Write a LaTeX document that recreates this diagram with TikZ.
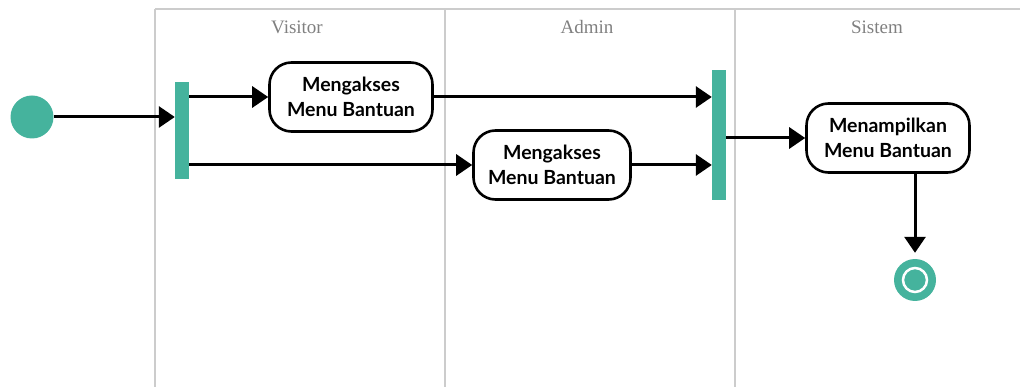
\documentclass[tikz,border=0pt]{standalone}
\usepackage{fontspec}
\setmainfont{Lato}
\newfontfamily\lanefont{Liberation Serif}
\usetikzlibrary{arrows.meta}
\definecolor{hijau}{RGB}{69,179,157}
\begin{document}
\begin{tikzpicture}[x=1pt,y=-1pt]
\tikzstyle{aksi}=[draw,line width=2.6pt,rounded corners=22pt,minimum width=163pt,minimum height=69pt,align=center,font=\fontsize{19.5}{25}\selectfont\bfseries]
\tikzstyle{garpu}=[fill=hijau,minimum width=14pt,inner sep=0pt]
\tikzstyle{panah}=[line width=3pt,-{Triangle[length=16pt,width=21pt]}]
\tikzstyle{lajur}=[text=gray,font=\lanefont\fontsize{19}{22}\selectfont]
\useasboundingbox (0,0) rectangle (1020,387);
\draw[black!20,line width=1.2pt] (155,9) -- (1020,9)
      (155,9) -- (155,387)
      (445,9) -- (445,387)
      (735,9) -- (735,387);
\node[lajur] (l1) at (297,27) {Visitor};
\node[lajur] (l2) at (587,27) {Admin};
\node[lajur] (l3) at (877,27) {Sistem};
\node[circle,fill=hijau,minimum size=43pt,inner sep=0pt] at (32,117) (mulai) {};
\node[garpu,minimum height=97pt] at (182,131) (f1) {};
\node[aksi] at (351,97) (a1) {Mengakses\\Menu Bantuan};
\node[aksi,minimum width=157pt] at (552,165) (a2) {Mengakses\\Menu Bantuan};
\node[garpu,minimum height=130pt] at (719,135) (f2) {};
\node[aksi] at (888,138) (a3) {Menampilkan\\Menu Bantuan};
\node[circle,fill=hijau,minimum size=42pt,inner sep=0pt] at (915,280) (akhir) {};
\draw[white,line width=2.5pt] (akhir) circle (12pt);
\draw[panah] (mulai) -- (mulai -| f1.west);
\draw[panah] (f1.east |- a1) -- (a1);
\draw[panah] (f1.east |- a2) -- (a2);
\draw[panah] (a1) -- (a1 -| f2.west);
\draw[panah] (a2) -- (a2 -| f2.west);
\draw[panah] (f2.east |- a3) -- (a3);
\draw[panah,shorten >=6pt] (a3.south -| akhir) -- (akhir);
\end{tikzpicture}
\end{document}
